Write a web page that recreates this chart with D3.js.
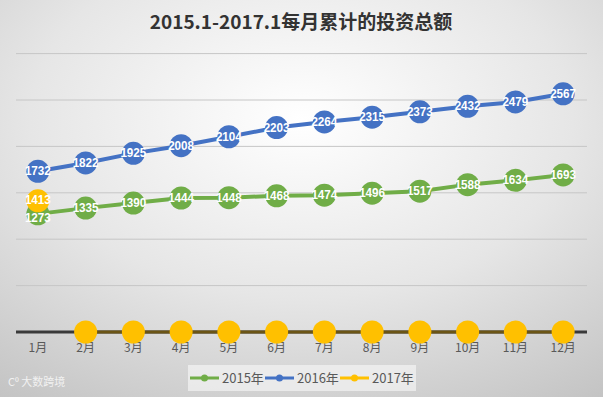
<!DOCTYPE html>
<html>
<head>
<meta charset="utf-8">
<script src="https://cdn.jsdelivr.net/npm/d3@7"></script>
<style>
  html, body { margin: 0; padding: 0; background: #fff; }
  svg { display: block; font-family: "Noto Sans CJK SC", "Noto Sans", sans-serif; }
</style>
</head>
<body>
<div id="chart"></div>
<script>
const months = ["1月", "2月", "3月", "4月", "5月", "6月", "7月", "8月", "9月", "10月", "11月", "12月"];
const v2015 = [1273, 1335, 1390, 1444, 1448, 1468, 1474, 1496, 1517, 1588, 1634, 1693];
const v2016 = [1732, 1822, 1925, 2008, 2104, 2203, 2264, 2315, 2373, 2432, 2479, 2567];
const v2017 = [1413, 0, 0, 0, 0, 0, 0, 0, 0, 0, 0, 0];
const seriesNames = ["2015年", "2016年", "2017年"];
const yTicks = [0, 500, 1000, 1500, 2000, 2500, 3000];

const W = 603, H = 397;
const svg = d3.select("#chart").append("svg").attr("width", W).attr("height", H);

// background gradient, light in the middle
const defs = svg.append("defs");
const grad = defs.append("radialGradient").attr("id", "bg").attr("cx", "50%").attr("cy", "30%").attr("r", "90%");
grad.append("stop").attr("offset", "0%").attr("stop-color", "#ffffff");
grad.append("stop").attr("offset", "50%").attr("stop-color", "#e6e6e6");
grad.append("stop").attr("offset", "100%").attr("stop-color", "#c0c0c0");
svg.append("rect").attr("width", W).attr("height", H).attr("fill", "url(#bg)");

const x = d3.scaleBand().domain(months).range([14, 587]);
const y = d3.scaleLinear().domain([0, 3000]).range([332, 53.6]);
const cx = (i) => x(months[i]) + x.bandwidth() / 2;

// title
svg.append("text").attr("x", 301).attr("y", 29).attr("text-anchor", "middle")
  .attr("font-size", 19).attr("font-weight", "bold").attr("fill", "#333")
  .text("2015.1-2017.1每月累计的投资总额");

// gridlines
svg.append("g").selectAll("line").data(yTicks.filter((d) => d > 0)).enter().append("line")
  .attr("x1", 16).attr("x2", 587).attr("y1", (d) => y(d)).attr("y2", (d) => y(d))
  .attr("stroke", "#c6c6c6").attr("stroke-width", 1);

// axis line
svg.append("line").attr("x1", 16).attr("x2", 587).attr("y1", y(0)).attr("y2", y(0))
  .attr("stroke", "#3a3a3a").attr("stroke-width", 3);

// x labels
const xAxis = d3.axisBottom(x).tickSize(0).tickPadding(11);
const gx = svg.append("g").attr("transform", `translate(0,${y(0)})`).call(xAxis);
gx.select(".domain").remove();
gx.selectAll("text").attr("font-size", 12).attr("fill", "#595959")
  .attr("font-family", "'Noto Sans CJK SC', sans-serif");

const series = [
  { name: seriesNames[0], values: v2015, color: "#70ad47" },
  { name: seriesNames[1], values: v2016, color: "#4472c4" },
  { name: seriesNames[2], values: v2017, color: "#ffc000" },
];

const line = d3.line().x((d, i) => cx(i)).y((d) => y(d));

// 2015, 2016 lines + markers
series.slice(0, 2).forEach((s) => {
  svg.append("path").datum(s.values).attr("d", line)
    .attr("fill", "none").attr("stroke", s.color).attr("stroke-width", 4);
  svg.append("g").selectAll("circle").data(s.values).enter().append("circle")
    .attr("cx", (d, i) => cx(i)).attr("cy", (d) => y(d)).attr("r", 11.5).attr("fill", s.color);
});

// 2017: line only along the zero months, drawn over the axis
const s17 = series[2];
const zeroPts = s17.values.map((d, i) => ({ d, i })).filter((p) => p.i > 0);
svg.append("path").datum(zeroPts)
  .attr("d", d3.line().x((p) => cx(p.i)).y((p) => y(p.d)))
  .attr("fill", "none").attr("stroke", "#6b5516").attr("stroke-width", 3);
svg.append("g").selectAll("circle").data(s17.values).enter().append("circle")
  .attr("cx", (d, i) => cx(i)).attr("cy", (d) => y(d)).attr("r", 11.5).attr("fill", s17.color);

// data labels
const labels = [];
v2015.forEach((v, i) => labels.push({ i, v, dy: i === 0 ? 8 : 4 }));
v2016.forEach((v, i) => labels.push({ i, v, dy: 4 }));
v2017.forEach((v, i) => { if (v > 0) labels.push({ i, v, dy: 3 }); });
svg.append("g").selectAll("text").data(labels).enter().append("text")
  .attr("x", (d) => cx(d.i)).attr("y", (d) => y(d.v) + d.dy)
  .attr("text-anchor", "middle").attr("font-size", 12).attr("font-weight", "bold")
  .attr("fill", "#fff").attr("font-family", "'Liberation Sans', Arial, sans-serif")
  .attr("textLength", 26).attr("lengthAdjust", "spacingAndGlyphs")
  .text((d) => d.v);

// legend
const lg = svg.append("g");
lg.append("rect").attr("x", 188).attr("y", 365).attr("width", 228).attr("height", 26)
  .attr("fill", "#f4f4f4").attr("opacity", 0.7);
let lx = 190;
series.forEach((s) => {
  lg.append("line").attr("x1", lx).attr("x2", lx + 29).attr("y1", 378).attr("y2", 378)
    .attr("stroke", s.color).attr("stroke-width", 3);
  lg.append("circle").attr("cx", lx + 14.5).attr("cy", 378).attr("r", 3.5).attr("fill", s.color);
  lg.append("text").attr("x", lx + 32).attr("y", 383).attr("font-size", 13).attr("fill", "#595959")
    .text(s.name);
  lx += 75;
});

// watermark
svg.append("text").attr("x", 8).attr("y", 386).attr("font-size", 11).attr("fill", "#f6f6f6")
  .attr("opacity", 0.9).text("C⁰ 大数跨境");
</script>
</body>
</html>
